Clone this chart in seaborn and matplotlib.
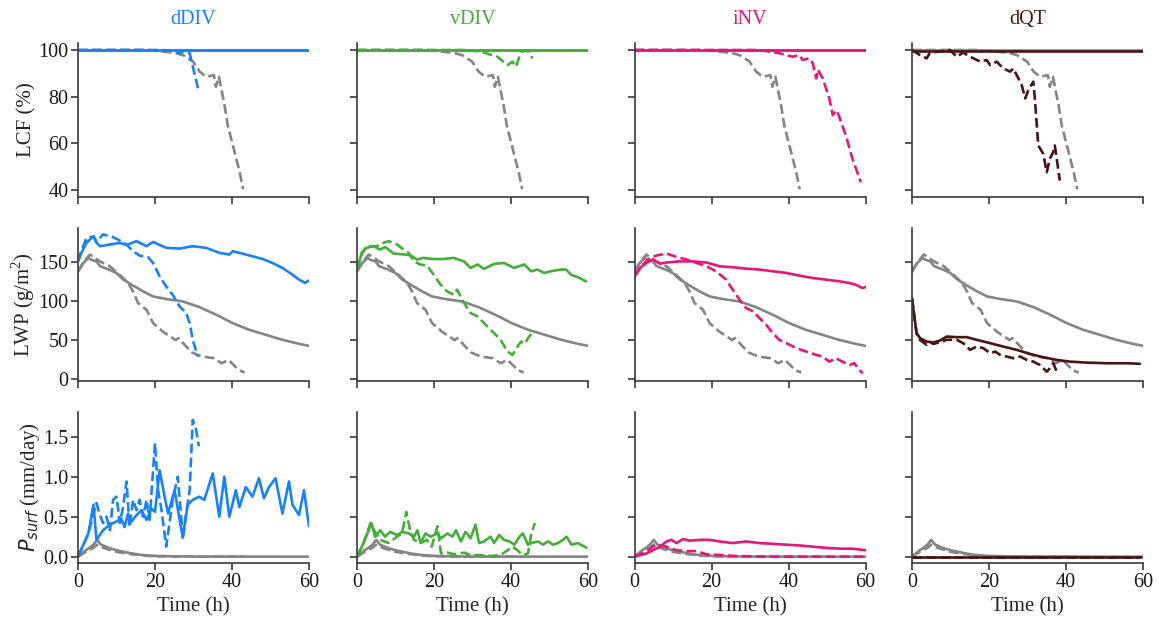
import numpy as np
import pandas as pd
import matplotlib
matplotlib.use("Agg")
import matplotlib.pyplot as plt
import seaborn as sns

# ---------------- data ----------------
cases = ["dDIV", "vDIV", "iNV", "dQT"]
case_colors = ["#1a82f7", "#45ad3a", "#e5177b", "#4a1414"]
ctrl_color = "#858585"

row_labels = ["LCF (%)", "LWP (g/m$^\\mathregular{2}$)", "$P_{surf}$ (mm/day)"]
x_ticks = [0, 20, 40, 60]
lcf_ticks = [40, 60, 80, 100]
lwp_ticks = [0, 50, 100, 150]
p_ticks = [0.0, 0.5, 1.0, 1.5]

# control (gray) runs, same in every column
ctrl_lcf_s_t = [0, 15, 30, 45, 60]
ctrl_lcf_s = [100, 100, 100, 100, 100]
ctrl_lcf_d_t = [0, 18, 22, 25, 27.3, 29.9, 31.6, 33.3, 35.3, 35.8, 36.6, 38.1, 38.9, 40.7, 42, 42.9]
ctrl_lcf_d = [100, 100, 99.3, 98.8, 97.8, 95, 90.7, 88.5, 89.2, 84.2, 88.5, 76, 67.6, 56, 47.5, 40.2]

ctrl_lwp_s_t = [0, 1.4, 2.7, 3.5, 4.8, 5.7, 8.3, 10, 11.7, 14.3, 16.9, 19.5, 22.9, 27.2, 31.5, 35.9, 40.2, 44.5, 48.8, 53.1, 57.4, 60]
ctrl_lwp_s = [138, 149, 155.5, 153, 151, 145, 140, 136, 128, 120, 112.5, 106, 102.7, 99.6, 92.4, 82.5, 71.7, 63.1, 56.7, 50.3, 45.1, 42.5]
ctrl_lwp_d_t = [0, 1.4, 3.1, 5.7, 8.3, 11.7, 13, 14.3, 15.6, 17.8, 19.5, 22, 24.6, 25.3, 26.1, 27.5, 29.6, 32.2, 35.3, 37.3, 39.1, 41.7, 43.3]
ctrl_lwp_d = [138, 150, 159.8, 151, 144.7, 129.7, 123.3, 112.5, 97.5, 88.9, 71.7, 61, 52.4, 50, 52.5, 45, 34, 28.8, 26.7, 20.2, 24.5, 11.6, 8.2]

ctrl_p_s_t = [0, 1, 2, 3, 4, 5, 6, 7, 8, 10, 12, 14, 16, 18, 20, 25, 30, 60]
ctrl_p_s = [0, 0.04, 0.08, 0.11, 0.15, 0.21, 0.15, 0.13, 0.11, 0.08, 0.06, 0.04, 0.025, 0.015, 0.01, 0.004, 0.001, 0]
ctrl_p_d_t = [0, 2, 4, 5, 6, 8, 10, 12, 14, 16, 18, 20, 25, 30, 43]
ctrl_p_d = [0, 0.06, 0.11, 0.15, 0.12, 0.09, 0.06, 0.045, 0.03, 0.02, 0.01, 0.005, 0.002, 0, 0]

# dDIV
ddiv_lcf_s_t = [0, 15, 30, 45, 60]
ddiv_lcf_s = [100, 100, 100, 100, 100]
ddiv_lcf_d_t = [0, 20, 25, 26.5, 27.5, 29, 31.3]
ddiv_lcf_d = [100, 100, 99.8, 98.5, 99.6, 98.6, 82.7]
ddiv_lwp_s_t = [0, 0.9, 2.2, 4, 4.8, 5.7, 8.3, 10.9, 12.6, 15.2, 17.8, 19.5, 22.9, 26.4, 29.8, 33.3, 36.7, 39.3, 40.2, 42.7, 45.3, 47.9, 50.5, 53.1, 55.7, 57.4, 59, 60]
ddiv_lwp_s = [151, 162, 174.8, 183.4, 175, 170.5, 172.7, 174.8, 172, 177, 170.5, 176, 168.4, 167.5, 170.5, 168.4, 162, 159.8, 164, 161, 157.6, 154.2, 149, 142.6, 134, 127.6, 123.5, 126.5]
ddiv_lwp_d_t = [0, 0.9, 2.2, 4, 4.8, 5.7, 6.5, 8.7, 10.4, 12.6, 14.3, 16, 18.2, 19.5, 21.2, 22.9, 24.6, 26.4, 28.1, 29, 29.8, 31.1]
ddiv_lwp_d = [151, 165, 181, 183, 177, 181, 185.6, 183, 179, 172.7, 164, 158.5, 156.4, 149, 131.8, 119, 108, 93.2, 84.7, 71.7, 50.3, 28.8]
ddiv_p_s_t = [0, 2.7, 4, 4.8, 6.5, 8.3, 10, 11.2, 12.1, 13, 13.9, 15.2, 16.5, 17.8, 19.1, 20, 21.2, 22.5, 23.4, 25.1,
              26.4, 27.2, 28.5, 29.8, 31.5, 32.8, 35, 36.7, 38, 39.3, 41, 41.9, 43.6, 45.3, 47, 48.3, 49.6, 51.3, 53.1, 54.8,
              55.7, 57.4, 58.7, 60]
ddiv_p_s = [0, 0.29, 0.65, 0.21, 0.33, 0.40, 0.44, 0.48, 0.37, 0.54, 0.44, 0.52, 0.58, 0.46, 0.60, 0.56, 1.08, 0.75, 0.54, 0.83,
            0.46, 0.25, 0.65, 0.71, 0.75, 0.71, 1.04, 0.50, 1.0, 0.5, 0.83, 0.62, 0.87, 0.75, 0.98, 0.73, 0.87, 0.98, 0.54, 0.94,
            0.65, 0.52, 0.83, 0.38]
ddiv_p_d_t = [0, 2.7, 4.8, 5.7, 6.5, 7.4, 8.3, 9.1, 10, 10.9, 11.7, 12.6, 13.4, 14.3, 15.2, 16, 16.9, 17.8, 18.6, 20,
              20.8, 21.7, 22.9, 24.6, 25.9, 26.8, 27.2, 28.1, 29, 29.8, 30.7, 31.4]
ddiv_p_d = [0, 0.29, 0.67, 0.52, 0.42, 0.50, 0.33, 0.71, 0.75, 0.42, 0.62, 0.94, 0.37, 0.71, 0.58, 0.71, 0.50, 0.71, 0.46, 1.42,
            0.83, 0.58, 0.125, 0.71, 1.0, 0.5, 0.21, 0.54, 0.83, 1.71, 1.58, 1.38]

# vDIV
vdiv_lcf_s_t = [0, 15, 30, 45, 60]
vdiv_lcf_s = [100, 100, 100, 100, 100]
vdiv_lcf_d_t = [0, 28, 32.1, 36.5, 39.1, 40.4, 41.3, 42.6, 44.3, 45.6]
vdiv_lcf_d = [100, 100, 99.3, 97.1, 93.5, 95, 92.8, 99.3, 99.7, 96.4]
vdiv_lwp_s_t = [0, 1.2, 2.5, 4.3, 6, 7.3, 9.5, 12.1, 13.8, 15.6, 17.3, 19.9, 22.5, 25.1, 27.8, 29.5, 31.3, 33, 35.6, 38.2,
                40.8, 43.5, 45.2, 46.9, 48.6, 50.3, 53, 54.3, 55.6, 57.8, 59.5]
vdiv_lwp_s = [140.5, 162, 168.4, 170.5, 166.2, 169.6, 161.1, 160, 159, 153.4, 155.5, 154, 154, 155.5, 151, 142.6, 147, 141.3, 147.8, 149,
              142.6, 147, 138.3, 140.5, 136.2, 138.3, 140.5, 140.5, 134, 129.7, 125.4]
vdiv_lwp_d_t = [0, 1.2, 2.5, 5.1, 6.9, 8.2, 10.4, 12.1, 13.4, 14.8, 16.4, 18.2, 19.9, 21.7, 23.4, 25.1, 26, 27.8, 29.5, 31.3,
                33, 34.7, 35.6, 37.3, 39.1, 40.4, 41.7, 42.6, 43.5, 44.7, 46]
vdiv_lwp_d = [140.5, 160, 170.5, 170.5, 174.8, 177, 172.7, 166.2, 162, 151, 147, 145.6, 134, 121.1, 112.5, 108.2, 114.7, 97.5, 84.7, 80.4,
              71.7, 63.1, 58.9, 50.3, 35.2, 30.9, 41.6, 48, 45, 54.5, 62]
vdiv_p_s_t = [0, 1.7, 3.8, 4.7, 6, 7.3, 8.6, 10.4, 11.7, 13.5, 14.8, 15.7, 16.5, 17.8, 19.1, 20.9, 21.8, 23.5, 24.8, 25.7,
              27, 28.2, 29.5, 30.8, 31.7, 33, 34.7, 35.6, 36.9, 38.2, 39.6, 40.9, 42.2, 43.1, 44.4, 45.3, 47, 48.3, 49.6, 50.9,
              52.2, 53.5, 54.4, 55.7, 57.4, 59.6]
vdiv_p_s = [0, .17, .42, .25, .33, .25, .31, .27, .31, .29, .25, .33, .17, .29, .25, .29, .23, .29, .25, .33,
            .19, .31, .23, .40, .17, .19, .25, .17, .27, .21, .19, .15, .25, .29, .15, .17, .19, .15, .19, .15,
            .17, .21, .25, .15, .17, .11]
vdiv_p_d_t = [0, 1.7, 3.5, 4.4, 6, 8.2, 10.4, 11.7, 12.8, 13.8, 14.8, 16.5, 18.2, 19.4, 20.9, 21.8, 23.5, 25.2, 27.8, 29.5,
              32.1, 34.7, 37.3, 39.1, 40.4, 41.7, 43, 44.4, 45.3, 46.2]
vdiv_p_d = [0, .17, .42, .33, .21, .17, .25, .29, .56, .33, .21, .17, .21, .125, .38, .04, .05, .03, .05, .02,
            .02, .008, .02, .08, .125, .08, .02, .04, .29, .42]

# iNV
inv_lcf_s_t = [0, 15, 30, 45, 60]
inv_lcf_s = [100, 100, 100, 100, 100]
inv_lcf_d_t = [0, 32.5, 37.6, 41.1, 42.8, 43.7, 45.4, 46.3, 47.2, 47.6, 48.9, 50.6, 51.5, 52.5, 53.2, 54.9, 56.6, 58.8]
inv_lcf_d = [100, 100, 98.6, 97.1, 97.8, 95.7, 96.4, 94.3, 87.8, 91.6, 87.8, 79.2, 72, 74.1, 71.2, 63.3, 53.3, 43.2]
inv_lwp_s_t = [0, 1.4, 3.1, 4.8, 6.6, 8.3, 11.7, 15.2, 18.7, 22.1, 25.5, 29, 32.5, 35.9, 39.4, 42.8, 46.3, 49.7, 53.2, 55.8, 57.5, 59.2, 60]
inv_lwp_s = [131.8, 142.6, 149, 153.4, 148, 149.6, 151, 151, 149.6, 144.7, 143.5, 141.7, 140.5, 138.3, 136.2, 132.7, 129.7, 127.6, 125.4, 123.3, 121, 116.8, 118]
inv_lwp_d_t = [0, 2.2, 4, 5.7, 8.3, 10.9, 13.5, 16.1, 18.7, 21.2, 23.8, 25.5, 27.3, 29, 30.7, 32.5, 34.2, 35.9, 37.6, 39.4,
               42, 44.6, 47.2, 48.9, 50.6, 52.3, 54, 55.8, 57.1, 58.4, 59.3]
inv_lwp_d = [131.8, 146.9, 155.5, 158.5, 161.1, 156.8, 153.4, 149, 144.7, 138.3, 127.6, 114.7, 101.8, 91.1, 86.9, 78.2, 69.6, 58.9, 50.3, 46.1,
             39.6, 35.2, 30.9, 28.8, 22.3, 26.6, 22.3, 18, 20.2, 11.6, 7.3]
inv_p_s_t = [0, 3.1, 4.8, 6.6, 8.3, 9.6, 10.9, 12.6, 14.3, 16.9, 19.5, 22.1, 25.5, 29, 32.5, 35.9, 39.4, 42.8, 46.3, 49.7, 53.2, 56.6, 60]
inv_p_s = [0, .04, .08, .125, .19, .21, .17, .22, .20, .21, .21, .19, .17, .19, .17, .16, .15, .14, .125, .11, .10, .10, .08]
inv_p_d_t = [0, 3.1, 4.8, 6.1, 8.3, 10.9, 13.5, 16.1, 18.7, 22.1, 25.5, 34.2, 45, 60]
inv_p_d = [0, .06, .125, .15, .125, .08, .07, .07, .03, .02, .01, 0, 0, 0]

# dQT
dqt_lcf_s_t = [0, 15, 30, 45, 60]
dqt_lcf_s = [99.5, 99.5, 99.5, 99.5, 99.5]
dqt_lcf_d_t = [0, 2.1, 3.8, 4.7, 7.3, 9.9, 11.6, 13.3, 15.1, 17.7, 19.4, 20.3, 22, 23.7, 25.5, 26.3, 27.2, 28.5, 29.4, 30.2,
               31.5, 31.9, 32.8, 34.1, 35, 35.8, 36.7, 37.1, 38.4]
dqt_lcf_d = [100, 97.8, 96.4, 98.9, 99.3, 100, 97.1, 98.9, 97.1, 95, 95.7, 93.5, 95, 92.1, 90.7, 92.1, 89.2, 84.9, 79.2, 82.7,
             86.4, 79.2, 59, 55.4, 47.5, 53.3, 56.2, 59, 43.9]
dqt_lwp_s_t = [0, 0.6, 1.2, 2.1, 3.8, 5.5, 7.3, 9, 11.6, 14.2, 16.8, 20.3, 23.7, 27.2, 30.6, 34.1, 37.6, 41, 45.4, 50.6, 55.8, 59.2]
dqt_lwp_s = [104, 80.3, 58.9, 52.4, 48.1, 46.8, 49.4, 54.5, 53.7, 53.7, 50.3, 46, 41.6, 37.4, 32.2, 27.9, 24.5, 22.3, 21, 20.2, 20.2, 19.5]
dqt_lwp_d_t = [0, 0.6, 1.2, 2.1, 3.8, 4.6, 5.5, 7.3, 9, 11.6, 13.3, 15.1, 16.8, 18.5, 20.3, 21.6, 22.9, 24.6, 26.3, 28.1,
               29.8, 31.5, 33.2, 35, 35.8, 36.7, 37.6]
dqt_lwp_d = [104, 80, 58, 50, 43.8, 48, 45, 47.2, 50.3, 50.3, 46, 37.4, 41.6, 39.6, 33.1, 35.2, 30.9, 28.8, 26.7, 28.8,
             24.5, 22.3, 18, 9.4, 13.7, 20.2, 9.4]
dqt_p_s_t = [0, 20, 40, 59.5]
dqt_p_s = [0, 0, 0, 0]
dqt_p_d_t = [0, 20, 40, 59]
dqt_p_d = [0, 0, 0, 0]

# ---------------- assemble ----------------
ctrl = [
    ((ctrl_lcf_s_t, ctrl_lcf_s), (ctrl_lcf_d_t, ctrl_lcf_d)),
    ((ctrl_lwp_s_t, ctrl_lwp_s), (ctrl_lwp_d_t, ctrl_lwp_d)),
    ((ctrl_p_s_t, ctrl_p_s), (ctrl_p_d_t, ctrl_p_d)),
]
runs = {
    "dDIV": [((ddiv_lcf_s_t, ddiv_lcf_s), (ddiv_lcf_d_t, ddiv_lcf_d)),
             ((ddiv_lwp_s_t, ddiv_lwp_s), (ddiv_lwp_d_t, ddiv_lwp_d)),
             ((ddiv_p_s_t, ddiv_p_s), (ddiv_p_d_t, ddiv_p_d))],
    "vDIV": [((vdiv_lcf_s_t, vdiv_lcf_s), (vdiv_lcf_d_t, vdiv_lcf_d)),
             ((vdiv_lwp_s_t, vdiv_lwp_s), (vdiv_lwp_d_t, vdiv_lwp_d)),
             ((vdiv_p_s_t, vdiv_p_s), (vdiv_p_d_t, vdiv_p_d))],
    "iNV": [((inv_lcf_s_t, inv_lcf_s), (inv_lcf_d_t, inv_lcf_d)),
            ((inv_lwp_s_t, inv_lwp_s), (inv_lwp_d_t, inv_lwp_d)),
            ((inv_p_s_t, inv_p_s), (inv_p_d_t, inv_p_d))],
    "dQT": [((dqt_lcf_s_t, dqt_lcf_s), (dqt_lcf_d_t, dqt_lcf_d)),
            ((dqt_lwp_s_t, dqt_lwp_s), (dqt_lwp_d_t, dqt_lwp_d)),
            ((dqt_p_s_t, dqt_p_s), (dqt_p_d_t, dqt_p_d))],
}

# ---------------- style ----------------
sns.set_style("ticks")
plt.rcParams["font.family"] = ["Liberation Serif", "DejaVu Serif"]
plt.rcParams["mathtext.fontset"] = "dejavusans"
plt.rcParams["axes.edgecolor"] = "#3a3a3a"
plt.rcParams["axes.linewidth"] = 1.2
plt.rcParams["xtick.color"] = "#3a3a3a"
plt.rcParams["ytick.color"] = "#3a3a3a"
plt.rcParams["xtick.labelcolor"] = "#1a1a1a"
plt.rcParams["ytick.labelcolor"] = "#1a1a1a"

W, H = 1159, 621
fig = plt.figure(figsize=(W / 100, H / 100), dpi=100)

col_left = [78, 357, 634.5, 912]
col_w = 231
row_top = [43, 228.3, 411.7]
row_bot = [196.7, 381, 563.3]
ylims = [(37, 103), (-2.6, 193.5), (-0.083, 1.8125)]
yticks = [lcf_ticks, lwp_ticks, p_ticks]
lw = 1.9

axes = [[None] * 4 for _ in range(3)]
for r in range(3):
    for c in range(4):
        ax = fig.add_axes([col_left[c] / W, 1 - row_bot[r] / H, col_w / W, (row_bot[r] - row_top[r]) / H])
        axes[r][c] = ax
        (cs, cd) = ctrl[r]
        sns.lineplot(x=cs[0], y=cs[1], ax=ax, color=ctrl_color, linewidth=lw, errorbar=None)
        sns.lineplot(x=cd[0], y=cd[1], ax=ax, color=ctrl_color, linewidth=lw, linestyle="--", errorbar=None)
        (rs, rd) = runs[cases[c]][r]
        sns.lineplot(x=rs[0], y=rs[1], ax=ax, color=case_colors[c], linewidth=lw, errorbar=None)
        sns.lineplot(x=rd[0], y=rd[1], ax=ax, color=case_colors[c], linewidth=lw, linestyle="--", errorbar=None)
        ax.set_xlim(0, 60)
        ax.set_ylim(*ylims[r])
        ax.set_xticks(x_ticks)
        ax.set_yticks(yticks[r])
        ax.tick_params(length=5, width=1.2, labelsize=14.5, pad=2)
        sns.despine(ax=ax)
        ax.set_xlabel("")
        ax.set_ylabel("")
        if r < 2:
            ax.tick_params(labelbottom=False)
        else:
            ax.set_xlabel("Time (h)", fontsize=15, labelpad=4)
        if c > 0:
            ax.tick_params(labelleft=False)
        else:
            ax.set_ylabel(row_labels[r], fontsize=15, labelpad=1)
        if r == 2 and c == 0:
            ax.yaxis.set_major_formatter(matplotlib.ticker.FormatStrFormatter("%.1f"))
        if r == 0:
            ax.set_title(cases[c], color=case_colors[c], fontsize=14.5, pad=14)

fig.align_ylabels([axes[r][0] for r in range(3)])
fig.savefig("out.png", dpi=100)
